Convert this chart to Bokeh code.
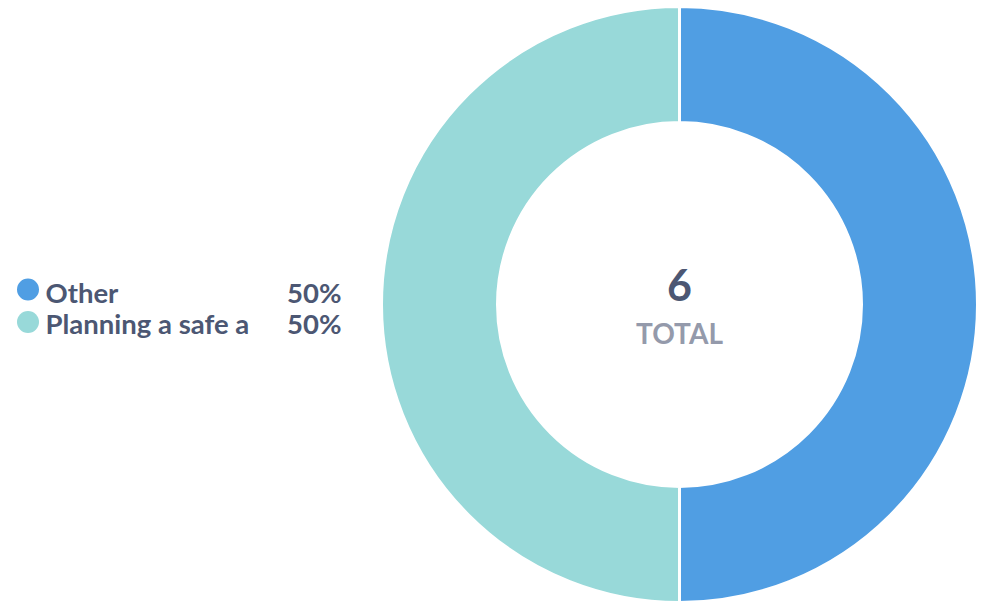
import math
from bokeh.plotting import figure
from bokeh.models import Range1d, ColumnDataSource
from bokeh.core.properties import value
from bokeh.embed import file_html
from bokeh.resources import INLINE

categories = ["Other", "Planning a safe a"]
counts = [3, 3]
colors = ["#509EE3", "#98D9D9"]
total_label = "TOTAL"

W, H = 987, 605
total = sum(counts)

# angles: start at top, clockwise
starts, ends = [], []
cum = 0
for c in counts:
    starts.append(math.pi / 2 - cum / total * 2 * math.pi)
    cum += c
    ends.append(math.pi / 2 - cum / total * 2 * math.pi)

cx, cy = 679, H - 304
R_OUT, R_IN = 298, 182

p = figure(width=W, height=H, output_backend="svg", toolbar_location=None,
           x_range=Range1d(0, W), y_range=Range1d(0, H), min_border=0)
p.axis.visible = False
p.grid.visible = False
p.outline_line_color = None
p.background_fill_color = "white"
p.border_fill_color = "white"

src = ColumnDataSource(dict(start=starts, end=ends, color=colors,
                            x=[cx] * len(counts), y=[cy] * len(counts)))
p.annular_wedge(x="x", y="y", inner_radius=R_IN, outer_radius=R_OUT,
                start_angle="start", end_angle="end", direction="clock",
                fill_color="color", line_color="white", line_width=3, source=src)

font = value("Lato")
text_col = "#4C5773"

p.text(x=[cx], y=[H - 284], text=[str(total)], text_font=font, text_font_style="bold",
       text_font_size="43px", text_color=text_col, text_align="center", text_baseline="middle")
p.text(x=[cx], y=[H - 332], text=[total_label], text_font=font, text_font_style="bold",
       text_font_size="28px", text_color="#949AAB", text_align="center", text_baseline="middle")

# legend
dot_y = [H - 289, H - 321.5]
text_y = [H - 292, H - 323]
pcts = [f"{round(c / total * 100)}%" for c in counts]
lsrc = ColumnDataSource(dict(dy=dot_y, ty=text_y, lab=categories, pct=pcts, color=colors,
                             dx=[27.5] * len(counts), tx=[45] * len(counts), px=[341] * len(counts)))
p.scatter(x="dx", y="dy", size=22, fill_color="color", line_color=None, source=lsrc)
p.text(x="tx", y="ty", text="lab", text_font=font, text_font_style="bold", text_font_size="27.5px",
       text_color=text_col, text_baseline="middle", text_align="left", source=lsrc)
p.text(x="px", y="ty", text="pct", text_font=font, text_font_style="bold", text_font_size="27.5px",
       text_color=text_col, text_baseline="middle", text_align="right", source=lsrc)

open("out.html", "w").write(file_html(p, INLINE))
